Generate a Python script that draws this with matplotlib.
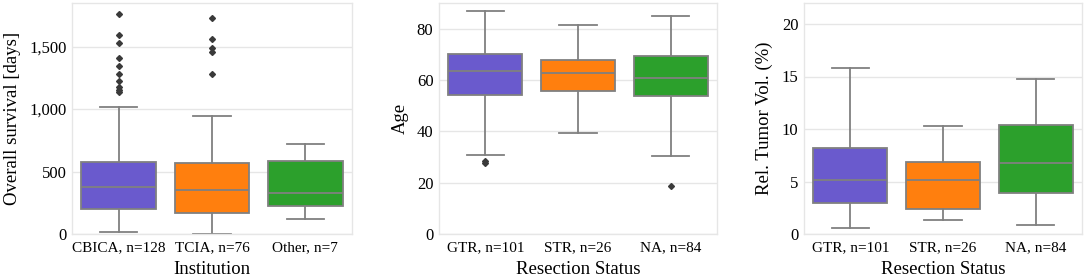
import matplotlib
matplotlib.use("Agg")
import matplotlib.pyplot as plt
from matplotlib.ticker import FuncFormatter

# ---------------- data ----------------
inst_labels = ["CBICA, n=128", "TCIA, n=76", "Other, n=7"]
inst_q1 = [203, 168, 225]
inst_med = [380, 355, 331]
inst_q3 = [575, 567, 583]
inst_whislo = [13, 3, 120]
inst_whishi = [1018, 944, 724]
inst_fliers = [
    [1764, 1596, 1526, 1409, 1342, 1283, 1229, 1176, 1155, 1141],
    [1730, 1558, 1489, 1454, 1281],
    [],
]

res_labels = ["GTR, n=101", "STR, n=26", "NA, n=84"]
age_q1 = [54.2, 55.6, 53.6]
age_med = [63.7, 62.9, 60.7]
age_q3 = [70.0, 67.9, 69.2]
age_whislo = [30.9, 39.3, 30.3]
age_whishi = [86.8, 81.4, 85.1]
age_fliers = [[28.6, 27.6], [], [18.8]]

vol_q1 = [2.98, 2.41, 3.94]
vol_med = [5.14, 5.11, 6.76]
vol_q3 = [8.22, 6.86, 10.41]
vol_whislo = [0.54, 1.30, 0.86]
vol_whishi = [15.8, 10.3, 14.8]
vol_fliers = [[], [], []]

colors = ["#6A5ACD", "#FF7F0E", "#2CA02C"]

# ---------------- style ----------------
plt.rcParams["font.family"] = ["Liberation Serif", "DejaVu Serif"]

fig = plt.figure(figsize=(10.84, 2.79), dpi=100)

positions = [
    [72 / 1084, 45 / 279, 280 / 1084, 231 / 279],
    [439 / 1084, 45 / 279, 278 / 1084, 231 / 279],
    [804 / 1084, 45 / 279, 278 / 1084, 231 / 279],
]

line_col = "#808080"
grid_col = "#E6E6E6"


def make_stats(labels, q1, med, q3, lo, hi, fl):
    out = []
    for i in range(len(labels)):
        out.append(dict(label=labels[i], q1=q1[i], med=med[i], q3=q3[i],
                        whislo=lo[i], whishi=hi[i], fliers=fl[i]))
    return out


panels = [
    (make_stats(inst_labels, inst_q1, inst_med, inst_q3, inst_whislo, inst_whishi, inst_fliers),
     "Institution", "Overall survival [days]", (0, 1850), [0, 500, 1000, 1500], True),
    (make_stats(res_labels, age_q1, age_med, age_q3, age_whislo, age_whishi, age_fliers),
     "Resection Status", "Age", (0, 90), [0, 20, 40, 60, 80], False),
    (make_stats(res_labels, vol_q1, vol_med, vol_q3, vol_whislo, vol_whishi, vol_fliers),
     "Resection Status", "Rel. Tumor Vol. (%)", (0, 22), [0, 5, 10, 15, 20], False),
]

for pos, (stats, xlabel, ylabel, ylim, yticks, comma) in zip(positions, panels):
    ax = fig.add_axes(pos)
    ax.set_axisbelow(True)
    bp = ax.bxp(stats, positions=[0, 1, 2], widths=0.8, patch_artist=True,
                showfliers=True,
                boxprops=dict(edgecolor=line_col, linewidth=1.3),
                medianprops=dict(color=line_col, linewidth=1.3),
                whiskerprops=dict(color=line_col, linewidth=1.3),
                capprops=dict(color=line_col, linewidth=1.3),
                flierprops=dict(marker="D", markersize=3, markerfacecolor="#3a3a3a",
                                markeredgecolor="#3a3a3a", linestyle="none"))
    for patch, c in zip(bp["boxes"], colors):
        patch.set_facecolor(c)
    ax.set_xlim(-0.5, 2.5)
    ax.set_ylim(*ylim)
    ax.set_yticks(yticks)
    if comma:
        ax.yaxis.set_major_formatter(FuncFormatter(lambda v, p: f"{int(v):,}"))
    ax.grid(axis="y", color=grid_col, linewidth=1.0)
    ax.grid(axis="x", visible=False)
    for s in ax.spines.values():
        s.set_color(grid_col)
        s.set_linewidth(1.0)
    ax.tick_params(axis="both", length=0)
    ax.tick_params(axis="y", labelsize=12, pad=4)
    ax.tick_params(axis="x", labelsize=11, pad=5)
    ax.set_xticks([0, 1, 2])
    ax.set_xticklabels([s["label"] for s in stats])
    ax.set_xlabel(xlabel, fontsize=13.5, labelpad=5)
    ax.set_ylabel(ylabel, fontsize=13.5, labelpad=6)

fig.savefig("out.png", dpi=100)
